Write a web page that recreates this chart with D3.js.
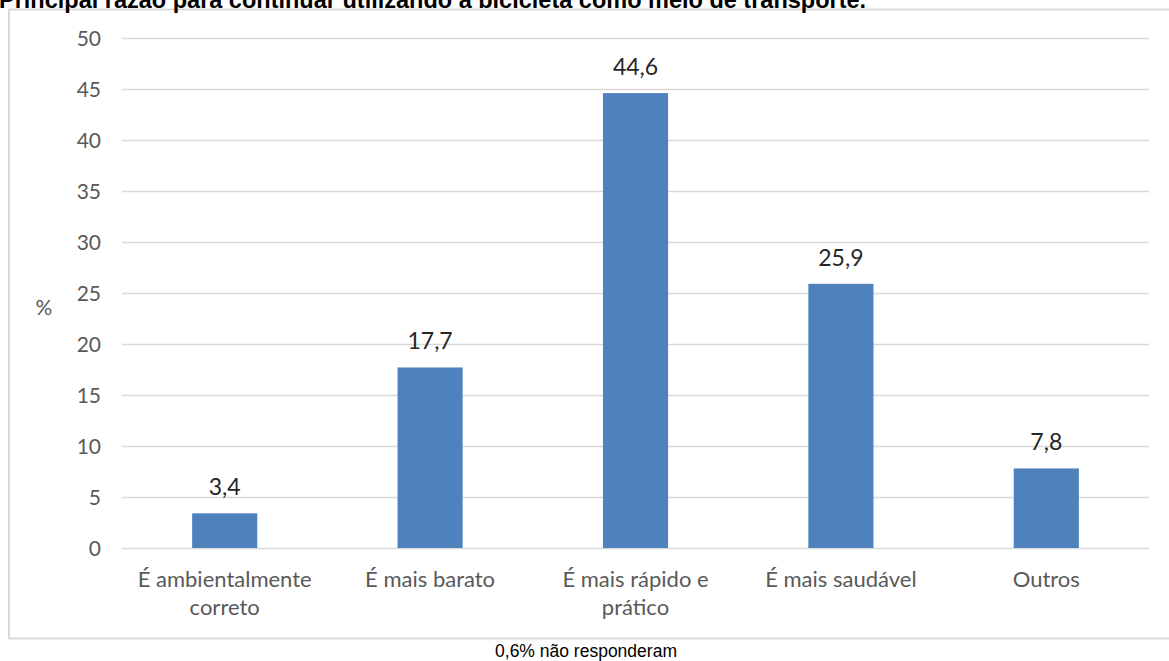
<!DOCTYPE html>
<html><head><meta charset="utf-8">
<script src="https://cdn.jsdelivr.net/npm/d3@7"></script>
<style>body{margin:0;background:#fff}svg{display:block}</style>
</head><body>
<svg id="c" width="1169" height="661"></svg>
<script>
const categories = [["É ambientalmente","correto"],["É mais barato"],["É mais rápido e","prático"],["É mais saudável"],["Outros"]];
const values = [3.4, 17.7, 44.6, 25.9, 7.8];
const valueLabels = ["3,4","17,7","44,6","25,9","7,8"];
const yTicks = [0,5,10,15,20,25,30,35,40,45,50];
const title = "Principal razão para continuar utilizando a bicicleta como meio de transporte.";
const yTitle = "%";
const note = "0,6% não responderam";

const svg = d3.select("#c");
const pL = 122, pR = 1149, pT = 38, pB = 548;
const x = d3.scaleBand().domain(d3.range(values.length)).range([pL, pR]).paddingInner(0.683).paddingOuter(0.3415);
const y = d3.scaleLinear().domain([0,50]).range([pB, pT]);

svg.append("rect").attr("x",9).attr("y",9.5).attr("width",1170).attr("height",629)
  .attr("fill","#fff").attr("stroke","#d9d9d9").attr("stroke-width",2);

svg.append("text").attr("x",-1).attr("y",8).attr("font-family","Liberation Sans, Arial").attr("font-weight","bold")
  .attr("font-size",23.5).attr("fill","#000").text(title);

const ya = svg.append("g").attr("transform",`translate(${pL},0)`)
  .call(d3.axisLeft(y).tickValues(yTicks).tickSize(-(pR-pL)).tickPadding(21).tickFormat(d3.format("d")));
ya.select(".domain").remove();
ya.selectAll(".tick line").attr("stroke","#d9d9d9").attr("stroke-width",1.5);
ya.selectAll(".tick text").attr("font-family","Lato").attr("font-size",21).attr("fill","#595959").attr("dy","0.35em");

svg.append("g").selectAll("rect").data(values).join("rect")
  .attr("x",(d,i)=>x(i)).attr("width",x.bandwidth())
  .attr("y",d=>y(d)).attr("height",d=>y(0)-y(d)).attr("fill","#4f81bd");

svg.append("g").selectAll("text").data(values).join("text")
  .attr("x",(d,i)=>x(i)+x.bandwidth()/2).attr("y",d=>y(d)-18)
  .attr("text-anchor","middle").attr("font-family","Lato").attr("font-size",23).attr("fill","#262626")
  .text((d,i)=>valueLabels[i]);

const cl = svg.append("g").selectAll("text").data(categories).join("text")
  .attr("x",(d,i)=>x(i)+x.bandwidth()/2).attr("y",587)
  .attr("text-anchor","middle").attr("font-family","Lato").attr("font-size",22).attr("fill","#595959");
cl.selectAll("tspan").data(d=>d).join("tspan")
  .attr("x",function(){return this.parentNode.getAttribute("x");})
  .attr("dy",(d,i)=>i===0?0:28).text(d=>d);

svg.append("text").attr("x",44).attr("y",315).attr("text-anchor","middle").attr("font-family","Lato")
  .attr("font-size",21).attr("fill","#595959").text(yTitle);

svg.append("text").attr("x",586).attr("y",656.5).attr("text-anchor","middle").attr("font-family","Liberation Sans, Arial")
  .attr("font-size",17.5).attr("fill","#000").text(note);
</script>
</body></html>
